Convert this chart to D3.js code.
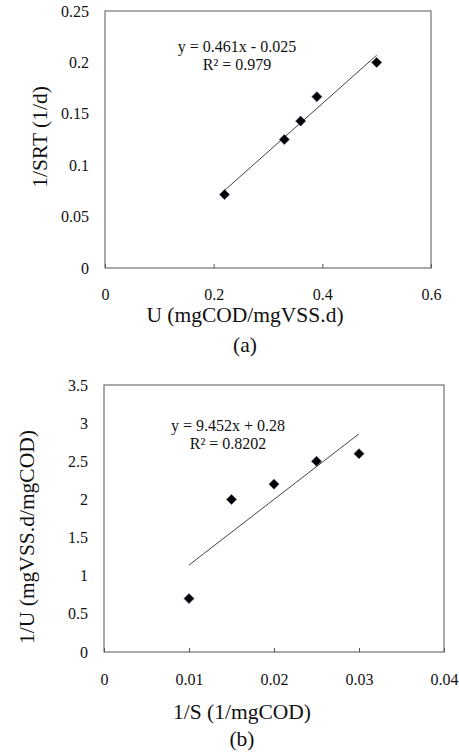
<!DOCTYPE html>
<html>
<head>
<meta charset="utf-8">
<script src="https://cdn.jsdelivr.net/npm/d3@7"></script>
<style>
body { margin: 0; background: #fff; }
svg text { font-family: "Liberation Serif", serif; fill: #111; }
</style>
</head>
<body>
<div id="chart"></div>
<script>
// panel (a) data: U vs 1/SRT
var uValues = [0.22, 0.33, 0.36, 0.39, 0.5]
var srtInv = [0.0714, 0.125, 0.1429, 0.1667, 0.2]
var aXTicks = [0, 0.2, 0.4, 0.6]
var aYTicks = [0, 0.05, 0.1, 0.15, 0.2, 0.25]

// panel (b) data: 1/S vs 1/U
var sInv = [0.01, 0.015, 0.02, 0.025, 0.03]
var uInv = [0.7, 2.0, 2.2, 2.5, 2.6]
var bXTicks = [0, 0.01, 0.02, 0.03, 0.04]
var bYTicks = [0, 0.5, 1, 1.5, 2, 2.5, 3, 3.5]

var FONT = "Liberation Serif"
width = 459
height = 755

var svg = d3.select("#chart").append("svg")
    .attr("width", width).attr("height", height)

drawPanel({
    left: 105, right: 431, top: 11, bottom: 268,
    xs: uValues, ys: srtInv, xTicks: aXTicks, yTicks: aYTicks,
    eq: ["y = 0.461x - 0.025", "R² = 0.979"], eqX: 237, eqY: 52,
    xTitle: "U (mgCOD/mgVSS.d)", yTitle: "1/SRT (1/d)", titleX: 39, titleMid: 137,
    tickY: 32, titleY: 54, tagY: 84, labelX: 245,
    tag: "(a)"
})

drawPanel({
    left: 104, right: 444, top: 385, bottom: 652,
    xs: sInv, ys: uInv, xTicks: bXTicks, yTicks: bYTicks,
    eq: ["y = 9.452x + 0.28", "R² = 0.8202"], eqX: 228, eqY: 431,
    xTitle: "1/S (1/mgCOD)", yTitle: "1/U (mgVSS.d/mgCOD)", titleX: 26, titleMid: 537,
    tickY: 33, titleY: 67, tagY: 94, labelX: 242,
    tag: "(b)"
})

function drawPanel(p) {
    var x = d3.scaleLinear()
        .domain([p.xTicks[0], p.xTicks[p.xTicks.length - 1]])
        .range([p.left, p.right])
    var y = d3.scaleLinear()
        .domain([p.yTicks[0], p.yTicks[p.yTicks.length - 1]])
        .range([p.bottom, p.top])

    // frame
    svg.append("rect")
        .attr("x", p.left).attr("y", p.top)
        .attr("width", p.right - p.left).attr("height", p.bottom - p.top)
        .attr("fill", "none").attr("stroke", "#555").attr("stroke-width", 1)

    // x axis: small inward ticks, labels below
    var xAxis = svg.append("g")
        .attr("transform", "translate(0," + p.bottom + ")")
        .call(d3.axisBottom(x).tickValues(p.xTicks).tickSize(-4).tickPadding(p.tickY - 11).tickFormat(d3.format("")))
    xAxis.attr("font-family", FONT).attr("font-size", 16)
    xAxis.select(".domain").remove()
    xAxis.selectAll("line").attr("stroke", "#555")
    xAxis.selectAll("text").attr("fill", "#111")

    var yAxis = svg.append("g")
        .attr("transform", "translate(" + p.left + ",0)")
        .call(d3.axisLeft(y).tickValues(p.yTicks).tickSize(0).tickPadding(16).tickFormat(d3.format("")))
    yAxis.attr("font-family", FONT).attr("font-size", 16)
    yAxis.select(".domain").remove()
    yAxis.selectAll("text").attr("fill", "#111")

    // least squares trend line over the data range
    var n = p.xs.length
    var mx = d3.mean(p.xs), my = d3.mean(p.ys)
    var sxy = 0, sxx = 0
    for (var i = 0; i < n; i++) {
        sxy += (p.xs[i] - mx) * (p.ys[i] - my)
        sxx += (p.xs[i] - mx) * (p.xs[i] - mx)
    }
    var slope = sxy / sxx
    var icpt = my - slope * mx
    var x0 = d3.min(p.xs), x1 = d3.max(p.xs)
    svg.append("line")
        .attr("x1", x(x0)).attr("y1", y(slope * x0 + icpt))
        .attr("x2", x(x1)).attr("y2", y(slope * x1 + icpt))
        .attr("stroke", "#444").attr("stroke-width", 1)

    // diamond markers
    var pts = p.xs.map(function (d, i) { return [d, p.ys[i]] })
    svg.selectAll(null)
        .data(pts)
        .enter()
        .append("path")
        .attr("d", d3.symbol().type(d3.symbolSquare).size(50))
        .attr("transform", function (d) { return "translate(" + x(d[0]) + "," + y(d[1]) + ") rotate(45)" })
        .attr("fill", "#000")
        .attr("stroke", "#2a3a5a").attr("stroke-width", 0.6)

    // regression label
    svg.append("text").attr("x", p.eqX).attr("y", p.eqY)
        .attr("text-anchor", "middle").attr("font-size", 16).text(p.eq[0])
    svg.append("text").attr("x", p.eqX).attr("y", p.eqY + 18)
        .attr("text-anchor", "middle").attr("font-size", 16).text(p.eq[1])

    // titles
    svg.append("text").attr("x", p.labelX).attr("y", p.bottom + p.titleY)
        .attr("text-anchor", "middle").attr("font-size", 21.5).text(p.xTitle)
    svg.append("text").attr("x", p.labelX).attr("y", p.bottom + p.tagY)
        .attr("text-anchor", "middle").attr("font-size", 21.5).text(p.tag)
    svg.append("text")
        .attr("transform", "translate(" + p.titleX + "," + p.titleMid + ") rotate(-90)")
        .attr("text-anchor", "middle").attr("dy", "0.35em").attr("font-size", 21.5).text(p.yTitle)
}
</script>
</body>
</html>
